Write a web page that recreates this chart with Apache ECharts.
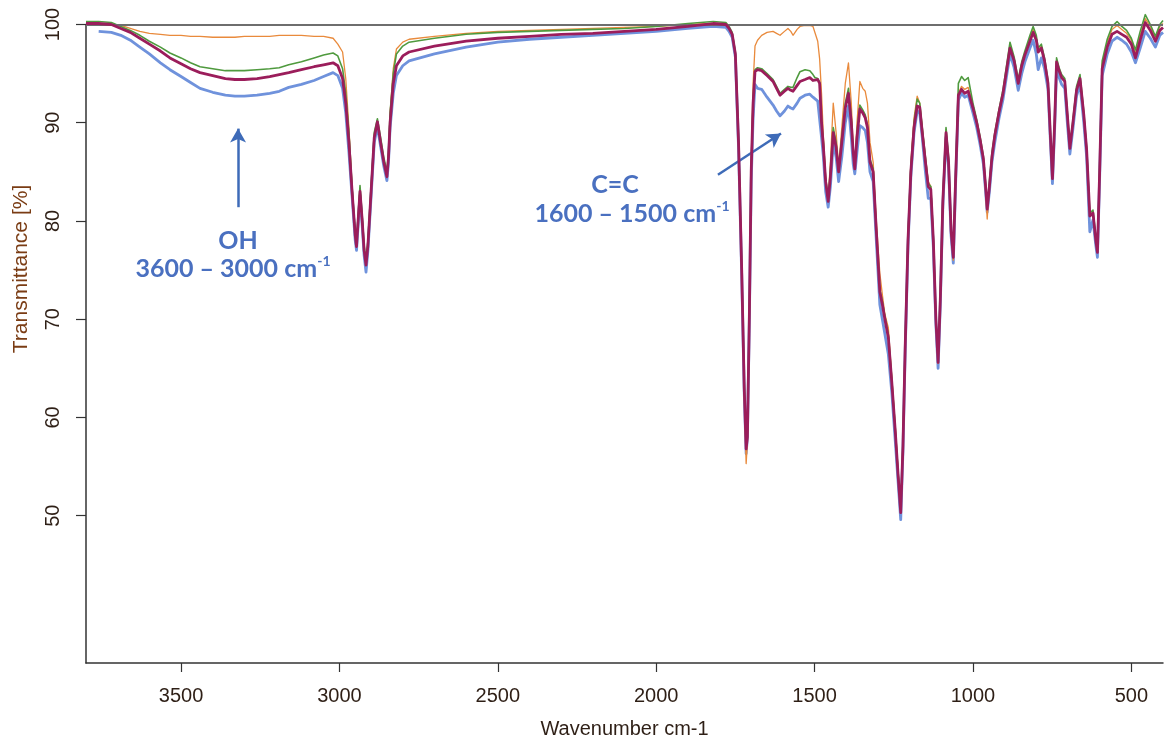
<!DOCTYPE html>
<html>
<head>
<meta charset="utf-8">
<script src="https://cdn.jsdelivr.net/npm/echarts@6/dist/echarts.min.js"></script>
<style>
html,body{margin:0;padding:0;background:#fff;}
#chart{width:1164px;height:744px;}
</style>
</head>
<body>
<div id="chart"></div>
<script>
// Wavenumbers (cm-1)
var wavenumbers = [
  3800, 3760, 3720, 3690, 3660, 3630, 3600, 3565, 3535, 3500, 3470, 3440, 3400, 3360, 3330, 3300, 3260, 3220, 3190, 3160, 3120, 3080, 3050, 3020, 3005,
  2990, 2980, 2970, 2960, 2950, 2946, 2940, 2935, 2928, 2922, 2916, 2910, 2900, 2890, 2880, 2870, 2860, 2850, 2845, 2840, 2830, 2820, 2800, 2780,
  2700, 2600, 2500, 2400, 2300, 2200, 2100, 2000, 1900, 1820, 1780,
  1770, 1760, 1750, 1740, 1730, 1722, 1716, 1712, 1706, 1700, 1694, 1688,
  1680, 1667, 1650, 1631, 1620, 1609, 1595, 1584, 1575, 1568, 1555, 1546, 1530, 1515, 1505, 1499, 1490, 1484, 1478,
  1472, 1465, 1457, 1450, 1441, 1432, 1424, 1414, 1403, 1393, 1384, 1378, 1373, 1366, 1357, 1348, 1340, 1333, 1325, 1315,
  1305, 1294, 1286, 1278, 1267, 1256, 1245, 1236, 1228, 1221, 1214, 1205, 1196, 1186, 1176, 1168,
  1160, 1150, 1141, 1133, 1125, 1117, 1110, 1103, 1095, 1085, 1077, 1069, 1062, 1055, 1046, 1036, 1026, 1015, 1000, 988, 977, 967, 960, 955, 948, 940,
  931, 918, 905, 883, 870, 857, 846, 836, 820, 810, 800, 794, 784, 774, 763, 756, 749, 742, 736, 728, 720, 710, 702, 694, 685, 673, 662, 650, 641, 631, 621, 612, 607, 600, 592, 576, 561, 545, 530, 515, 500, 487, 472, 456, 440, 424, 410, 400
];

var orangeT = [
  100.2, 100.1, 100.0, 99.9, 99.6, 99.3, 99.1, 99.0, 98.9, 98.9, 98.8, 98.8, 98.7, 98.7, 98.7, 98.8, 98.8, 98.8, 98.9, 98.9, 98.9, 98.8, 98.8, 98.6, 98.0,
  97.2, 94.5, 89.5, 83.5, 78.5, 77.5, 80.8, 83.3, 80.3, 77.3, 75.8, 77.8, 83.3, 88.8, 90.2, 88.2, 86.2, 84.7, 87.0, 91.0, 95.5, 97.5, 98.2, 98.5,
  98.8, 99.1, 99.3, 99.4, 99.5, 99.6, 99.7, 99.8, 100.0, 100.1, 100.0,
  99.6, 99.0, 97.0, 88.0, 75.0, 62.5, 55.3, 57.5, 70.0, 86.0, 94.0, 97.8,
  98.4, 98.9, 99.2, 99.3, 99.1, 98.9, 99.3, 99.6, 99.3, 98.9, 99.5, 99.8, 99.9, 99.9, 99.8, 99.7, 98.3, 96.5, 93.0,
  88.5, 84.5, 82.3, 86.0, 92.0, 89.0, 85.5, 89.5, 94.0, 96.1, 92.0, 87.5, 85.8, 90.0, 94.2, 93.5, 93.2, 92.0, 88.0, 86.0,
  80.0, 74.7, 72.5, 70.5, 69.1, 64.0, 59.0, 54.5, 50.6, 57.5, 67.5, 78.5, 86.0, 90.5, 92.7, 92.0,
  89.5, 86.5, 84.0, 83.5, 78.2, 70.2, 65.5, 72.3, 82.5, 89.3, 86.3, 79.0, 76.0, 84.0, 93.0, 93.7, 93.4, 93.6, 91.8, 90.2, 88.4, 86.2, 83.0, 80.2, 83.5, 86.7,
  88.9, 91.2, 93.2, 97.9, 96.5, 94.2, 96.0, 97.1, 98.6, 99.5, 98.6, 97.4, 97.8, 96.4, 94.1, 89.1, 84.4, 90.1, 96.4, 95.4, 94.7, 94.3, 90.9, 87.5, 89.9, 93.5, 94.7, 90.9, 87.3, 80.6, 80.9, 78.1, 76.9, 85.2, 96.0, 98.2, 99.5, 99.9, 99.5, 99.1, 98.4, 97.0, 98.9, 100.6, 99.8, 98.7, 99.8, 100.1
];

var greenT = [
  100.3, 100.3, 100.2, 99.8, 99.4, 98.9, 98.3, 97.7, 97.1, 96.6, 96.1, 95.7, 95.5, 95.3, 95.3, 95.3, 95.4, 95.5, 95.6, 95.9, 96.2, 96.6, 96.9, 97.1, 96.8,
  95.5, 93.0, 89.0, 83.5, 78.8, 77.8, 81.0, 83.6, 80.5, 77.5, 76.0, 78.0, 83.5, 89.0, 90.4, 88.5, 86.5, 85.0, 87.0, 91.0, 95.0, 97.0, 97.8, 98.2,
  98.6, 99.0, 99.2, 99.3, 99.4, 99.5, 99.6, 99.8, 100.1, 100.3, 100.2,
  99.8, 99.2, 97.2, 88.5, 75.5, 63.5, 57.0, 58.5, 70.5, 85.5, 92.5, 95.4,
  95.6, 95.5, 95.0, 94.4, 93.7, 93.0, 93.4, 93.7, 93.6, 93.6, 94.6, 95.2, 95.4, 95.3, 94.9, 94.6, 94.5, 94.1, 90.2,
  88.0, 84.3, 82.3, 85.0, 89.5, 88.0, 85.3, 88.5, 92.0, 93.5, 90.4, 87.3, 85.6, 89.0, 91.8, 91.3, 90.8, 89.8, 86.3, 85.3,
  79.3, 73.0, 71.8, 70.3, 68.4, 63.8, 58.8, 54.3, 50.6, 57.5, 67.5, 78.5, 85.5, 90.0, 92.4, 92.0,
  89.5, 86.5, 83.8, 83.5, 78.3, 70.3, 65.9, 72.5, 82.5, 89.5, 86.5, 79.3, 76.6, 84.5, 94.0, 94.7, 94.3, 94.6, 92.0, 90.3, 88.5, 86.6, 83.8, 81.4, 84.0, 87.0,
  89.0, 91.3, 93.4, 98.2, 96.7, 94.4, 96.2, 97.3, 98.9, 99.8, 98.9, 97.6, 98.0, 96.6, 94.3, 89.3, 84.6, 90.3, 96.6, 95.6, 94.9, 94.5, 91.1, 87.7, 90.1, 93.7, 94.9, 91.1, 87.5, 80.8, 81.1, 78.3, 77.1, 85.5, 96.3, 98.5, 99.8, 100.3, 99.8, 99.4, 98.6, 97.4, 99.3, 101.0, 100.0, 98.8, 100.0, 100.4
];

var purpleT = [
  100.1, 100.1, 100.0, 99.6, 99.2, 98.6, 98.0, 97.3, 96.6, 96.0, 95.5, 95.1, 94.8, 94.5, 94.4, 94.4, 94.5, 94.7, 94.9, 95.1, 95.4, 95.7, 95.9, 96.1, 95.8,
  94.5, 92.0, 88.0, 83.0, 78.5, 77.4, 80.5, 83.0, 80.0, 77.0, 75.5, 77.5, 83.0, 88.5, 90.1, 88.0, 86.0, 84.5, 86.5, 90.0, 94.0, 95.8, 96.8, 97.2,
  97.8, 98.3, 98.6, 98.8, 99.0, 99.1, 99.3, 99.5, 99.8, 100.1, 100.0,
  99.6, 99.0, 97.0, 88.0, 75.0, 63.0, 56.8, 58.0, 70.0, 85.0, 92.0, 95.2,
  95.4, 95.3, 94.8, 94.2, 93.5, 92.8, 93.2, 93.5, 93.3, 93.2, 93.8, 94.2, 94.4, 94.6, 94.3, 94.1, 94.4, 94.0, 90.0,
  87.5, 84.0, 82.0, 84.5, 89.0, 87.5, 85.0, 88.0, 91.5, 93.0, 90.0, 87.0, 85.3, 88.5, 91.4, 91.0, 90.5, 89.5, 86.0, 85.0,
  79.0, 72.8, 71.5, 70.0, 68.1, 63.5, 58.5, 54.0, 50.3, 57.0, 67.0, 78.0, 85.0, 89.5, 91.7, 91.6,
  89.0, 86.0, 83.5, 83.2, 78.0, 70.0, 65.6, 72.0, 82.0, 89.0, 86.0, 79.0, 76.3, 84.0, 92.8, 93.4, 93.0, 93.2, 91.5, 90.0, 88.2, 86.3, 83.5, 81.2, 83.5, 86.5,
  88.7, 91.0, 93.0, 97.6, 96.3, 94.0, 95.8, 96.9, 98.3, 99.2, 98.4, 97.2, 97.6, 96.3, 94.0, 89.0, 84.3, 90.0, 96.2, 95.3, 94.6, 94.2, 90.8, 87.4, 89.8, 93.3, 94.5, 90.8, 87.2, 80.5, 80.8, 78.0, 76.8, 85.0, 95.5, 97.7, 99.0, 99.3, 99.0, 98.7, 98.0, 96.6, 98.4, 100.2, 99.4, 98.3, 99.4, 99.7
];

var blueT = [
  null, 99.3, 99.2, 98.9, 98.4, 97.7, 97.0, 96.1, 95.4, 94.7, 94.1, 93.5, 93.1, 92.8, 92.7, 92.7, 92.8, 93.0, 93.2, 93.6, 93.9, 94.3, 94.7, 95.1, 94.8,
  93.5, 91.0, 87.0, 82.5, 78.0, 77.0, 80.0, 82.6, 79.5, 76.5, 74.8, 77.0, 82.5, 88.0, 89.6, 87.6, 85.6, 84.1, 86.0, 89.5, 93.0, 94.8, 95.8, 96.3,
  97.0, 97.7, 98.2, 98.5, 98.7, 98.9, 99.1, 99.3, 99.6, 99.8, 99.7,
  99.3, 98.7, 96.7, 87.5, 74.5, 62.5, 56.3, 58.0, 69.5, 84.0, 90.5, 93.9,
  93.5, 93.4, 92.6, 91.8, 91.2, 90.7, 91.2, 91.7, 91.5, 91.4, 92.0, 92.5, 92.8, 92.9, 92.6, 92.4, 92.2, 92.0, 88.5,
  86.5, 83.0, 81.4, 83.5, 88.0, 86.5, 84.0, 86.5, 90.0, 91.7, 88.5, 85.8, 84.8, 87.0, 89.7, 89.5, 89.2, 88.0, 85.0, 84.0,
  78.0, 71.5, 70.0, 68.5, 66.4, 62.5, 57.5, 53.3, 49.6, 56.5, 66.5, 77.5, 84.5, 89.0, 91.2, 91.0,
  88.5, 85.0, 82.3, 82.3, 77.3, 69.5, 65.0, 71.5, 81.5, 88.5, 85.5, 78.5, 75.7, 83.5, 92.3, 93.0, 92.6, 92.8, 91.0, 89.5, 87.7, 85.8, 83.0, 80.9, 83.0, 86.0,
  88.0, 90.4, 92.4, 97.0, 95.6, 93.3, 95.0, 96.2, 97.6, 98.4, 97.0, 95.4, 96.6, 95.5, 93.4, 88.5, 83.8, 89.4, 95.5, 94.6, 93.9, 93.5, 90.0, 86.8, 89.2, 92.7, 93.9, 90.0, 86.5, 78.9, 80.1, 77.5, 76.3, 84.4, 94.8, 97.0, 98.3, 98.7, 98.4, 98.0, 97.2, 96.1, 97.6, 99.3, 98.6, 97.7, 98.9, 99.2
];

var xTicks = [3500, 3000, 2500, 2000, 1500, 1000, 500];
var yTicks = [50, 60, 70, 80, 90, 100];

function pairs(vals) {
  return wavenumbers.map(function (w, i) { return [w, vals[i]]; });
}

var chart = echarts.init(document.getElementById('chart'), null, { renderer: 'canvas' });

var tickColor = '#2e1f16';
var fontFam = "'Liberation Sans', Arial, sans-serif";
var annColor = '#4a70c0';

function lineSeries(name, vals, color, width, z) {
  return {
    name: name,
    type: 'line',
    data: pairs(vals),
    showSymbol: false,
    symbol: 'none',
    clip: false,
    silent: true,
    z: z,
    lineStyle: { color: color, width: width, join: 'round' },
    animation: false
  };
}

var sBlue = lineSeries('blue', blueT, '#6f92dc', 2.8, 2);
var sOrange = lineSeries('orange', orangeT, '#e98a3c', 1.3, 3);
var sGreen = lineSeries('green', greenT, '#4f9a3e', 1.6, 4);
var sPurple = lineSeries('purple', purpleT, '#9b1d5b', 2.8, 5);

sBlue.markLine = {
  silent: true,
  symbol: ['none', 'none'],
  label: { show: false },
  lineStyle: { color: '#6e6e6e', width: 2, type: 'solid' },
  data: [{ yAxis: 100 }],
  animation: false
};

sPurple.markLine = {
  silent: true,
  symbol: ['none', 'arrow'],
  symbolSize: [12, 14],
  label: { show: false },
  lineStyle: { color: '#3e6bb8', width: 2.5, type: 'solid' },
  data: [
    [{ coord: [3320, 81.4] }, { coord: [3320, 89.4] }],
    [{ coord: [1805, 84.7] }, { coord: [1606, 88.9] }]
  ],
  animation: false
};

var annFont = "Lato, 'Open Sans', 'Noto Sans', sans-serif";
var richAnn = {
  m: { fontSize: 25, fontWeight: 'bold', fill: annColor, fontFamily: annFont, lineHeight: 30 },
  s: { fontSize: 14, fontWeight: 'bold', fill: annColor, fontFamily: annFont, lineHeight: 30, verticalAlign: 'top', padding: [0, 0, 10, 0] }
};

var option = {
  backgroundColor: '#ffffff',
  animation: false,
  grid: { left: 86, right: 1, top: 24.5, bottom: 77, containLabel: false },
  xAxis: {
    type: 'value',
    inverse: true,
    min: 400,
    max: 3800,
    name: 'Wavenumber cm-1',
    nameLocation: 'middle',
    nameGap: 56,
    nameTextStyle: { color: tickColor, fontSize: 20, fontFamily: fontFam },
    axisLine: { show: true, onZero: false, lineStyle: { color: '#333333', width: 1.5 } },
    axisTick: { show: true, length: 9, inside: false, customValues: xTicks, lineStyle: { color: '#333333', width: 1.2 } },
    axisLabel: {
      show: true, customValues: xTicks, margin: 23, color: tickColor, fontSize: 20, fontFamily: fontFam,
      formatter: function (v) { return String(v); }
    },
    splitLine: { show: false }
  },
  yAxis: {
    type: 'value',
    min: 35,
    max: 100,
    axisLine: { show: true, lineStyle: { color: '#333333', width: 1.5 } },
    axisTick: { show: true, length: 10, customValues: yTicks, lineStyle: { color: '#333333', width: 1.2 } },
    axisLabel: {
      show: true, customValues: yTicks, rotate: 90, margin: 23, color: tickColor, fontSize: 20, fontFamily: fontFam,
      formatter: function (v) { return String(v); }
    },
    splitLine: { show: false }
  },
  series: [sBlue, sOrange, sGreen, sPurple],
  graphic: [
    {
      type: 'text',
      x: 21,
      y: 269,
      rotation: Math.PI / 2,
      style: {
        text: 'Transmittance [%]',
        fill: '#7a3c14',
        fontSize: 21,
        fontFamily: fontFam,
        textAlign: 'center',
        textVerticalAlign: 'middle'
      },
      silent: true
    },
    {
      type: 'text',
      x: 238,
      y: 241,
      style: { text: 'OH', fill: annColor, fontSize: 25, fontWeight: 'bold', fontFamily: annFont, textAlign: 'center', textVerticalAlign: 'middle' },
      silent: true
    },
    {
      type: 'text',
      x: 233,
      y: 269,
      style: { text: '{m|3600 – 3000 cm}{s|-1}', rich: richAnn, textAlign: 'center', textVerticalAlign: 'middle' },
      silent: true
    },
    {
      type: 'text',
      x: 615,
      y: 185,
      style: { text: 'C=C', fill: annColor, fontSize: 25, fontWeight: 'bold', fontFamily: annFont, textAlign: 'center', textVerticalAlign: 'middle' },
      silent: true
    },
    {
      type: 'text',
      x: 632,
      y: 214,
      style: { text: '{m|1600 – 1500 cm}{s|-1}', rich: richAnn, textAlign: 'center', textVerticalAlign: 'middle' },
      silent: true
    }
  ]
};

chart.setOption(option);
</script>
</body>
</html>
